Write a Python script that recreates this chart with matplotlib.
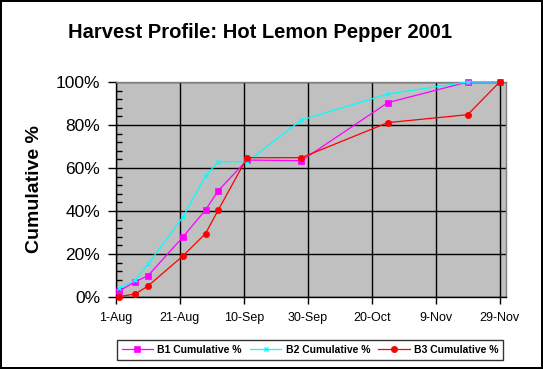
import matplotlib
matplotlib.use("Agg")
import matplotlib.pyplot as plt
from matplotlib.ticker import MultipleLocator, PercentFormatter
import pandas as pd

plt.rcParams['font.family'] = ['Liberation Sans', 'DejaVu Sans']

title = "Harvest Profile: Hot Lemon Pepper 2001"

# harvest dates (shared by the three series)
dates = pd.to_datetime(["2001-08-02", "2001-08-07", "2001-08-11", "2001-08-22",
                        "2001-08-29", "2001-09-02", "2001-09-11", "2001-09-28",
                        "2001-10-25", "2001-11-19", "2001-11-29"])

b1 = [2.8, 7.1, 9.9, 28.0, 40.5, 49.5, 63.7, 63.4, 90.4, 100.0, 100.0]
b2 = [4.0, 7.9, 15.2, 37.4, 56.3, 62.9, 62.9, 82.3, 94.4, 100.0, 100.0]
b3 = [0.2, 1.4, 5.1, 19.2, 29.5, 40.5, 64.8, 64.8, 81.1, 84.8, 100.0]

series = [("B1 Cumulative %", b1, "#FF00FF", "s", 4.2),
          ("B2 Cumulative %", b2, "#00FFFF", "x", 3.5),
          ("B3 Cumulative %", b3, "#FF0000", "o", 4.5)]

fig = plt.figure(figsize=(5.43, 3.69), dpi=100)
fig.patch.set_facecolor("white")
fig.patch.set_edgecolor("black")
fig.patch.set_linewidth(1.5)

ax = fig.add_axes([0.2136, 0.1951, 0.932 - 0.2136, 0.7778 - 0.1951])
ax.set_facecolor("#C0C0C0")

for label, vals, color, marker, ms in series:
    ax.plot(dates, vals, color=color, marker=marker, markersize=ms,
            linewidth=0.9, markeredgewidth=1 if marker == "x" else 0.5,
            markeredgecolor=color, label=label, clip_on=False, zorder=3)

ax.set_xlim(pd.Timestamp("2001-08-01"), pd.Timestamp("2001-12-01"))
ax.set_ylim(0, 100)

ticks = pd.date_range("2001-08-01", periods=7, freq="20D")
ax.set_xticks(ticks)
ax.set_xticklabels([f"{d.day}-{d.strftime('%b')}" for d in ticks], fontsize=9)

ax.yaxis.set_major_locator(MultipleLocator(20))
ax.yaxis.set_minor_locator(MultipleLocator(4))
ax.yaxis.set_major_formatter(PercentFormatter(decimals=0))
ax.tick_params(axis="y", which="major", labelsize=12.5, length=6, width=1,
               direction="out", pad=5.5)
ax.tick_params(axis="y", which="minor", length=4, width=1, direction="in")
ax.tick_params(axis="x", which="major", length=5, width=1, direction="out", pad=6)

ax.grid(True, which="major", color="black", linewidth=1)
ax.set_axisbelow(True)

for side in ("top", "right"):
    ax.spines[side].set_color("#808080")
    ax.spines[side].set_linewidth(1)
for side in ("left", "bottom"):
    ax.spines[side].set_color("black")
    ax.spines[side].set_linewidth(1)

ax.set_ylabel("Cumulative %", fontsize=14, fontweight="bold", labelpad=9)
fig.text(0.4797, 0.913, title, ha="center", va="center", fontsize=14.5,
         fontweight="bold")

leg = fig.legend(loc="center", bbox_to_anchor=(0.571, 0.052), ncol=3,
                 frameon=True, fancybox=False, edgecolor="black",
                 prop={"size": 7.5, "weight": "bold"}, handlelength=3,
                 columnspacing=0.8, handletextpad=0.4, borderpad=0.5,
                 borderaxespad=0)
leg.get_frame().set_linewidth(1)

fig.savefig("out.png", dpi=100, facecolor="white", edgecolor="black")
